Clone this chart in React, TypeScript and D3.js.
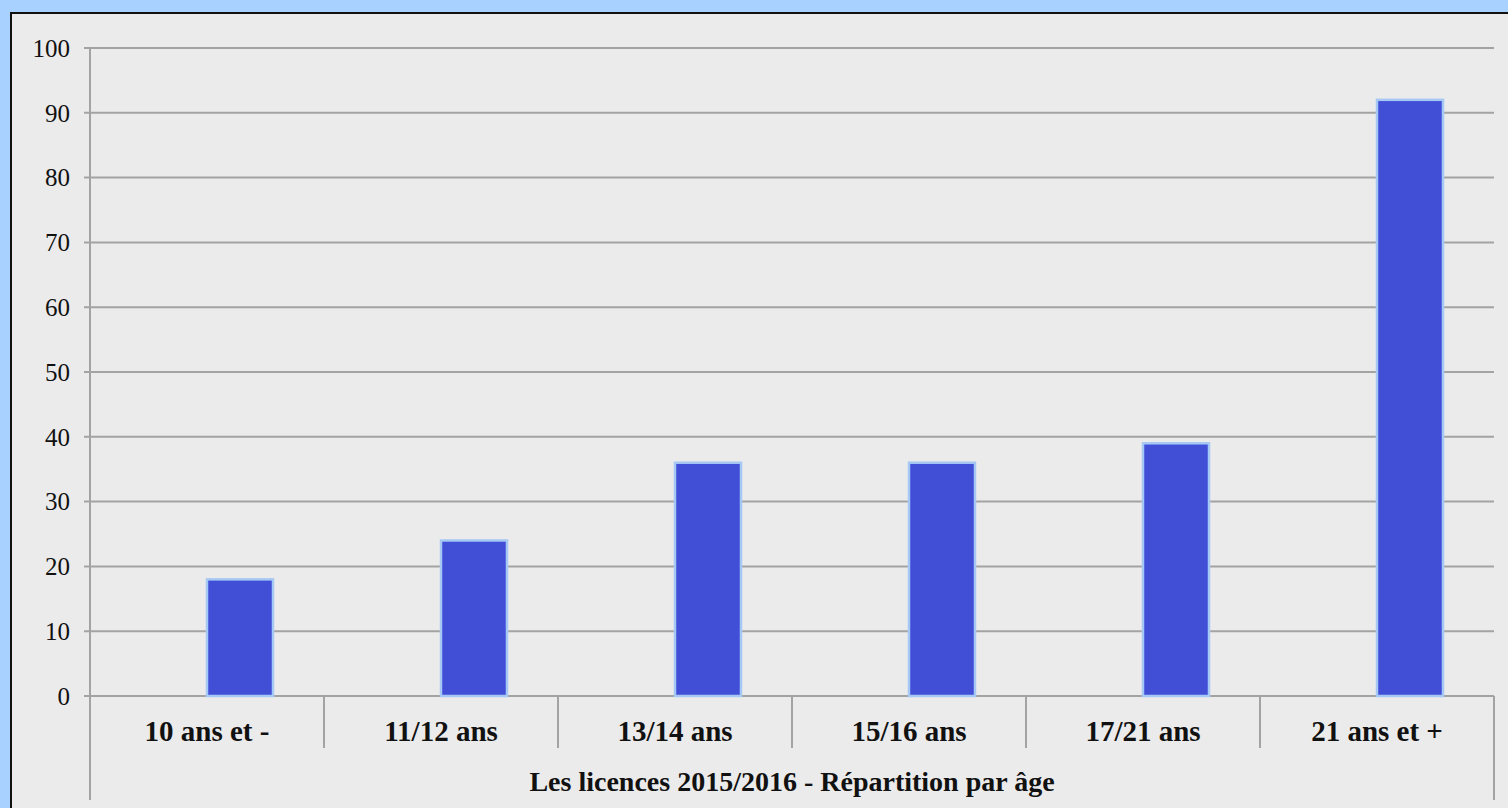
import React, { useEffect, useRef } from 'react';
import * as d3 from 'd3';

const categories = ['10 ans et -', '11/12 ans', '13/14 ans', '15/16 ans', '17/21 ans', '21 ans et +'];
const values = [18, 24, 36, 36, 39, 92];
const yTicks = [0, 10, 20, 30, 40, 50, 60, 70, 80, 90, 100];
const title = 'Les licences 2015/2016 - Répartition par âge';

export default () => {
  const svgRef = useRef<SVGSVGElement>(null);
  const width = 1508;
  const height = 808;

  function loadGraph(elm: SVGSVGElement) {
    const left = 90, right = 1494, top = 48, bottom = 696;
    const font = 'Liberation Serif, Times New Roman, serif';

    const svg = d3.select(elm)
      .attr('width', width)
      .attr('height', height);
    svg.selectAll('*').remove();

    svg.append('rect')
      .attr('width', width).attr('height', height)
      .attr('fill', '#a8d1ff');

    svg.append('rect')
      .attr('x', 11).attr('y', 13)
      .attr('width', width).attr('height', height)
      .attr('fill', '#ebebeb')
      .attr('stroke', '#111')
      .attr('stroke-width', 2);

    const x = d3.scaleBand<string>()
      .domain(categories)
      .range([left, right]);

    const y = d3.scaleLinear()
      .domain([0, 100])
      .range([bottom, top]);

    // grid lines + ticks
    svg.append('g')
      .selectAll('line')
      .data(yTicks)
      .enter()
      .append('line')
      .attr('x1', left - 6)
      .attr('x2', right)
      .attr('y1', d => y(d))
      .attr('y2', d => y(d))
      .attr('stroke', '#a3a3a3')
      .attr('stroke-width', 2);

    svg.append('g')
      .selectAll('text')
      .data(yTicks)
      .enter()
      .append('text')
      .text(d => d)
      .attr('x', 70)
      .attr('y', d => y(d))
      .attr('dy', '0.35em')
      .attr('text-anchor', 'end')
      .attr('font-family', font)
      .attr('font-size', '25px')
      .attr('fill', '#111');

    // axes frame
    svg.append('line')
      .attr('x1', left).attr('x2', left)
      .attr('y1', top).attr('y2', 800)
      .attr('stroke', '#a3a3a3').attr('stroke-width', 2);
    svg.append('line')
      .attr('x1', right).attr('x2', right)
      .attr('y1', bottom).attr('y2', 800)
      .attr('stroke', '#a3a3a3').attr('stroke-width', 2);

    svg.append('g')
      .selectAll('line')
      .data(categories.slice(1))
      .enter()
      .append('line')
      .attr('x1', d => x(d)!)
      .attr('x2', d => x(d)!)
      .attr('y1', bottom)
      .attr('y2', 748)
      .attr('stroke', '#a3a3a3')
      .attr('stroke-width', 2);

    // bars (offset to the right half of each category)
    const barW = 66;
    svg.append('g')
      .selectAll('rect')
      .data(values)
      .enter()
      .append('rect')
      .attr('x', (d, i) => x(categories[i])! + x.bandwidth() / 2)
      .attr('y', d => y(d))
      .attr('width', barW)
      .attr('height', d => bottom - y(d))
      .attr('fill', '#414ed6')
      .attr('stroke', '#a6c8f4')
      .attr('stroke-width', 2.5);

    svg.append('g')
      .selectAll('text')
      .data(categories)
      .enter()
      .append('text')
      .text(d => d)
      .attr('x', d => x(d)! + x.bandwidth() / 2)
      .attr('y', 731)
      .attr('dy', '0.35em')
      .attr('text-anchor', 'middle')
      .attr('font-family', font)
      .attr('font-weight', 'bold')
      .attr('font-size', '29px')
      .attr('fill', '#111');

    svg.append('text')
      .text(title)
      .attr('x', (left + right) / 2)
      .attr('y', 781)
      .attr('dy', '0.35em')
      .attr('text-anchor', 'middle')
      .attr('font-family', font)
      .attr('font-weight', 'bold')
      .attr('font-size', '28px')
      .attr('fill', '#111');
  }

  useEffect(() => {
    if (svgRef.current) {
      loadGraph(svgRef.current);
    }
  }, [svgRef.current]);

  return (
    <div style={{ position: 'fixed', left: 0, top: 0, width, height, overflow: 'hidden' }}>
      <svg ref={svgRef} style={{ display: 'block' }}></svg>
    </div>
  );
}
